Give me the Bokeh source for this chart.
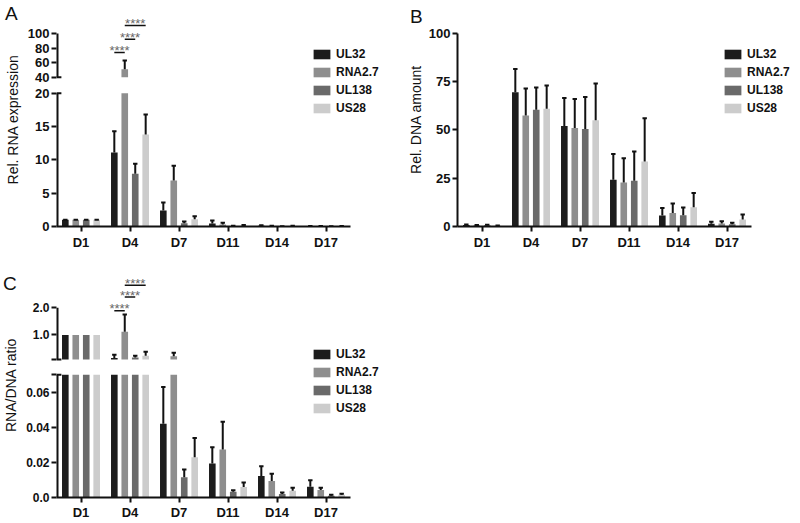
from bokeh.plotting import figure
from bokeh.models import Range1d, FixedTicker, Legend, LegendItem, Div, GridBox
from bokeh.core.properties import value
from bokeh.embed import file_html
from bokeh.resources import INLINE

FONT = "Liberation Sans"

# ---------------- data ----------------
days = ["D1", "D4", "D7", "D11", "D14", "D17"]
genes = ["UL32", "RNA2.7", "UL138", "US28"]
colors = ["#1c1c1c", "#8e8e8e", "#6a6a6a", "#cccccc"]

# Panel A: relative RNA expression (mean, SD)
rna_UL32 = [1.0, 11.1, 2.4, 0.45, 0.12, 0.05]
rna_UL32_sd = [0.03, 3.2, 1.2, 0.45, 0.05, 0.03]
rna_RNA27 = [1.0, 51.0, 6.9, 0.3, 0.08, 0.04]
rna_RNA27_sd = [0.03, 12.0, 2.2, 0.25, 0.04, 0.02]
rna_UL138 = [1.0, 7.9, 0.5, 0.05, 0.03, 0.02]
rna_UL138_sd = [0.03, 1.5, 0.25, 0.05, 0.02, 0.01]
rna_US28 = [1.0, 13.8, 1.1, 0.12, 0.08, 0.04]
rna_US28_sd = [0.03, 3.0, 0.45, 0.12, 0.04, 0.02]

# Panel B: relative DNA amount (mean, SD)
dna_UL32 = [0.8, 69.5, 52.0, 24.2, 5.7, 1.4]
dna_UL32_sd = [0.2, 12.0, 14.5, 13.3, 3.9, 1.0]
dna_RNA27 = [0.6, 57.5, 51.0, 22.8, 7.0, 1.5]
dna_RNA27_sd = [0.2, 14.0, 15.0, 12.6, 4.9, 1.2]
dna_UL138 = [0.7, 60.5, 50.5, 23.7, 5.8, 1.2]
dna_UL138_sd = [0.2, 11.5, 16.5, 15.1, 4.1, 0.8]
dna_US28 = [0.4, 61.0, 55.0, 33.7, 10.0, 3.6]
dna_US28_sd = [0.1, 12.0, 19.0, 22.3, 7.4, 2.6]

# Panel C: RNA/DNA ratio (mean, SD)
ratio_UL32 = [1.0, 0.15, 0.042, 0.0194, 0.0122, 0.0061]
ratio_UL32_sd = [0.0, 0.12, 0.021, 0.0093, 0.0056, 0.0037]
ratio_RNA27 = [1.0, 1.12, 0.22, 0.0274, 0.0094, 0.0043]
ratio_RNA27_sd = [0.0, 0.63, 0.13, 0.0158, 0.0041, 0.0013]
ratio_UL138 = [1.0, 0.17, 0.0115, 0.0033, 0.0020, 0.0010]
ratio_UL138_sd = [0.0, 0.07, 0.0045, 0.0008, 0.0008, 0.0005]
ratio_US28 = [1.0, 0.24, 0.023, 0.0060, 0.0039, 0.0015]
ratio_US28_sd = [0.0, 0.14, 0.011, 0.0026, 0.0017, 0.0006]

# axis ticks
A_yticks = [0, 5, 10, 15, 20, 40, 60, 80, 100]
A_ytick_labels = ["0", "5", "10", "15", "20", "40", "60", "80", "100"]
B_yticks = [0, 25, 50, 75, 100]
B_ytick_labels = ["0", "25", "50", "75", "100"]
C_yticks = [0.0, 0.02, 0.04, 0.06, 0.07, 0.1, 1.0, 2.0]
C_ytick_labels = ["0.0", "0.02", "0.04", "0.06", "", "", "1.0", "2.0"]

# significance comparisons at D4: (gene i, gene j, label)
sig_pairs = [(0, 1, "****"), (1, 2, "****"), (1, 3, "****")]

# ---------------- broken-axis settings ----------------
A_LOW_TOP, A_HIGH_BOT, A_HIGH_TOP, A_GAP, A_K, A_YMAX = 20.0, 40.0, 100.0, 2.388, 0.10945, 32.09
C_LOW_TOP, C_HIGH_BOT, C_HIGH_TOP, C_GAP, C_K, C_YMAX = 0.07, 0.1, 2.0, 0.00872, 0.015556, 0.12833
B_YMAX, B_TOP = 110.8, 100.0
A_SIG_LEVELS = [74.0, 92.0, 111.0]
C_SIG_LEVELS = [1.89, 2.39, 2.82]


def make_map(low_top, high_bot, gap, k):
    def f(v):
        if v <= low_top:
            return v
        if v < high_bot:
            return low_top
        return low_top + gap + (v - high_bot) * k
    return f


fA = make_map(A_LOW_TOP, A_HIGH_BOT, A_GAP, A_K)
fC = make_map(C_LOW_TOP, C_HIGH_BOT, C_GAP, C_K)


def ident(v):
    return v


offsets = [-0.32, -0.107, 0.107, 0.32]
BAR_W = 0.135
CAP = 0.045
PX_PER_DAY = 49.0
xcenters = [i + 0.5 for i in range(len(days))]
INK = "#111111"


def make_fig(width, height, ymax, borders, yticks_disp, ylabels, ytitle, ybounds, tick_font,
             title_standoff, x_standoff):
    l, r, t, b = borders
    x_end = (width - l - r) / PX_PER_DAY
    p = figure(width=width, height=height, x_range=Range1d(0, x_end), y_range=Range1d(0, ymax),
               output_backend="svg", toolbar_location=None,
               min_border_left=l, min_border_right=r, min_border_top=t, min_border_bottom=b)
    p.title.visible = False
    p.outline_line_color = None
    p.xgrid.visible = False
    p.ygrid.visible = False
    p.background_fill_color = "white"
    p.border_fill_color = "white"
    xa = p.xaxis[0]
    xa.bounds = (0, len(days))
    xa.ticker = FixedTicker(ticks=xcenters)
    xa.major_label_overrides = {x: d for x, d in zip(xcenters, days)}
    xa.axis_line_width = 2
    xa.axis_line_color = INK
    xa.major_tick_line_width = 2
    xa.major_tick_line_color = INK
    xa.major_tick_out = 5
    xa.major_tick_in = 0
    xa.minor_tick_line_color = None
    xa.major_label_text_font = FONT
    xa.major_label_text_font_size = "13px"
    xa.major_label_text_font_style = "bold"
    xa.major_label_text_color = INK
    xa.major_label_standoff = x_standoff
    ya = p.yaxis[0]
    ya.ticker = FixedTicker(ticks=yticks_disp)
    ya.major_label_overrides = {t_: s for t_, s in zip(yticks_disp, ylabels)}
    ya.bounds = ybounds
    ya.axis_line_width = 2
    ya.axis_line_color = INK
    ya.major_tick_line_width = 2
    ya.major_tick_line_color = INK
    ya.major_tick_out = 5
    ya.major_tick_in = 0
    ya.minor_tick_line_color = None
    ya.major_label_text_font = FONT
    ya.major_label_text_font_size = tick_font
    ya.major_label_text_font_style = "bold"
    ya.major_label_text_color = INK
    ya.major_label_standoff = 2
    ya.axis_label = ytitle
    ya.axis_label_text_font = FONT
    ya.axis_label_text_font_size = "14px"
    ya.axis_label_text_font_style = "normal"
    ya.axis_label_text_color = INK
    ya.axis_label_standoff = title_standoff
    return p


def draw_bars(p, series, sds, f, low_top, high_bot):
    rends = []
    for gi in range(len(genes)):
        xs = [c + offsets[gi] for c in xcenters]
        vals = series[gi]
        tops = [f(min(v, low_top)) for v in vals]
        r = p.vbar(x=xs, top=tops, bottom=0, width=BAR_W, fill_color=colors[gi], line_color=None)
        rends.append(r)
        if high_bot is not None:
            hx = [x for x, v in zip(xs, vals) if v > high_bot]
            ht = [f(v) for v in vals if v > high_bot]
            if hx:
                p.vbar(x=hx, top=ht, bottom=f(high_bot), width=BAR_W,
                       fill_color=colors[gi], line_color=None)
        ex = [x for x, s in zip(xs, sds[gi]) if s > 0]
        e0 = [f(v) for v, s in zip(vals, sds[gi]) if s > 0]
        e1 = [f(v + s) for v, s in zip(vals, sds[gi]) if s > 0]
        p.segment(x0=ex, y0=e0, x1=ex, y1=e1, line_color=INK, line_width=2)
        p.segment(x0=[x - CAP for x in ex], y0=e1, x1=[x + CAP for x in ex], y1=e1,
                  line_color=INK, line_width=2)
    return rends


def broken_axis(p, f, low_top, high_bot, high_top):
    p.yaxis[0].axis_line_color = None
    p.segment(x0=[0, 0], y0=[0, f(high_bot)], x1=[0, 0], y1=[low_top, f(high_top)],
              line_color=INK, line_width=4)
    p.segment(x0=[0, 0], y0=[low_top, f(high_bot)], x1=[0.1, 0.1], y1=[low_top, f(high_bot)],
              line_color=INK, line_width=2)


def add_sig(p, f, levels, day_idx):
    xc = xcenters[day_idx]
    x0 = [xc + offsets[i] for i, j, s in sig_pairs]
    x1 = [xc + offsets[j] for i, j, s in sig_pairs]
    ys = [f(v) for v in levels]
    p.segment(x0=x0, y0=ys, x1=x1, y1=ys, line_color=INK, line_width=1.5)
    p.text(x=[(a + b) / 2 for a, b in zip(x0, x1)], y=ys, text=[s for i, j, s in sig_pairs],
           text_align="center", text_baseline="alphabetic", y_offset=-2,
           text_font=value(FONT), text_font_size="13px", text_color="#666666")


def add_legend(p, rends, loc):
    leg = Legend(items=[LegendItem(label=g, renderers=[r]) for g, r in zip(genes, rends)],
                 location=loc, orientation="vertical", glyph_width=21, glyph_height=12,
                 label_height=12, label_width=10, spacing=4, padding=0, margin=0,
                 label_standoff=4, border_line_color=None, background_fill_alpha=0,
                 label_text_font=FONT, label_text_font_size="12px",
                 label_text_font_style="bold", label_text_color=INK)
    p.add_layout(leg)


def letter(text, pad_top, pad_left):
    return Div(text=('<div style="font-family:\'Liberation Sans\',Arial,sans-serif;font-size:19px;'
                     'line-height:19px;color:#111111;padding:%dpx 0 0 %dpx;">%s</div>'
                     % (pad_top, pad_left, text)),
               width=34, height=34, margin=(0, 0, 0, 0))


# ---------------- Panel A ----------------
pA = make_fig(400, 252, A_YMAX, (56, 0, 12, 25), [fA(v) for v in A_yticks], A_ytick_labels,
              "Rel. RNA expression", (0, fA(A_HIGH_TOP)), "13px", 4, 3)
rA = draw_bars(pA, [rna_UL32, rna_RNA27, rna_UL138, rna_US28],
               [rna_UL32_sd, rna_RNA27_sd, rna_UL138_sd, rna_US28_sd], fA, A_LOW_TOP, A_HIGH_BOT)
broken_axis(pA, fA, A_LOW_TOP, A_HIGH_BOT, A_HIGH_TOP)
add_sig(pA, fA, A_SIG_LEVELS, 1)
add_legend(pA, rA, (255, 111))

# ---------------- Panel B ----------------
pB = make_fig(399, 252, B_YMAX, (57, 0, 12, 25), [float(v) for v in B_yticks], B_ytick_labels,
              "Rel. DNA amount", (0, B_TOP), "13px", 2, 3)
rB = draw_bars(pB, [dna_UL32, dna_RNA27, dna_UL138, dna_US28],
               [dna_UL32_sd, dna_RNA27_sd, dna_UL138_sd, dna_US28_sd], ident, 1e9, None)
add_legend(pB, rB, (265, 111))

# ---------------- Panel C ----------------
pC = make_fig(400, 270, C_YMAX, (56, 0, 20, 22), [fC(v) for v in C_yticks], C_ytick_labels,
              "RNA/DNA ratio", (0, fC(C_HIGH_TOP)), "12px", 4, 2)
rC = draw_bars(pC, [ratio_UL32, ratio_RNA27, ratio_UL138, ratio_US28],
               [ratio_UL32_sd, ratio_RNA27_sd, ratio_UL138_sd, ratio_US28_sd], fC, C_LOW_TOP, C_HIGH_BOT)
broken_axis(pC, fC, C_LOW_TOP, C_HIGH_BOT, C_HIGH_TOP)
add_sig(pC, fC, C_SIG_LEVELS, 1)
add_legend(pC, rC, (255, 82))

layout = GridBox(children=[(pA, 0, 0), (pB, 0, 1), (pC, 1, 0),
                           (letter("A", 4, 5), 0, 0), (letter("B", 7, 10), 0, 1),
                           (letter("C", 22, 3), 1, 0)],
                 spacing=0)

with open("out.html", "w") as fh:
    fh.write(file_html(layout, INLINE))
